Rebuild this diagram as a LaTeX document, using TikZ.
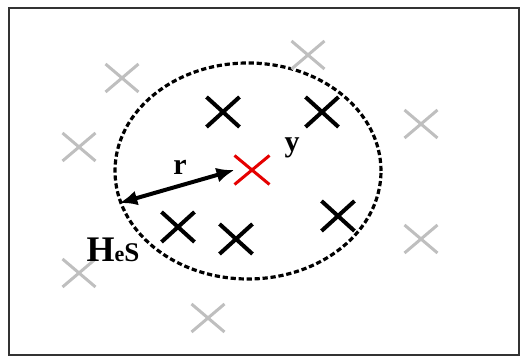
\documentclass[tikz,border=0pt]{standalone}
\usepackage{fontspec}
\setmainfont{Liberation Serif}
\usetikzlibrary{arrows.meta,shapes.geometric,shapes.misc}

\begin{document}
\begin{tikzpicture}[
  x=0.5pt,y=-0.5pt,
  far/.style={cross out,draw=black!25,line width=1.5pt,minimum width=15pt,minimum height=12.5pt,inner sep=0pt},
  near/.style={cross out,draw=black,line width=2pt,minimum width=14.5pt,minimum height=13pt,inner sep=0pt},
  query/.style={cross out,draw=red!90!black,line width=1.5pt,minimum width=16pt,minimum height=13pt,inner sep=0pt},
  lbl/.style={font=\fontsize{15}{15}\selectfont\bfseries,inner sep=0pt},
  arr/.style={{Latex[length=9pt,width=7.5pt]}-{Latex[length=9pt,width=7.5pt]},line width=2pt}
]
\useasboundingbox (0,0) rectangle (520,356);
\draw[black!80,line width=1pt] (9,8) rectangle (519,355);
\node[ellipse,draw,dash pattern=on 2.6pt off 1.4pt,line width=1.6pt,minimum width=133pt,minimum height=108pt,inner sep=0pt] (hood) at (248,171) {};
% points outside the neighbourhood
\node[far] (g1) at (122,78) {};
\node[far] (g2) at (308,55) {};
\node[far] (g3) at (79,147) {};
\node[far] (g4) at (421,124) {};
\node[far] (g5) at (421,239) {};
\node[far] (g6) at (79,273) {};
\node[far] (g7) at (208,318) {};
% points inside
\node[near] (n1) at (223,112) {};
\node[near] (n2) at (322,112) {};
\node[near] (n3) at (178,227) {};
\node[near] (n4) at (236,239) {};
\node[near] (n5) at (338,216) {};
\node[query] (y0) at (252,170) {};
\node[lbl] (ylab) at (292,148) {y};
\node[lbl] (rlab) at (180,167) {r};
\node[inner sep=0pt,anchor=base] (hes) at (113,262)
  {\bfseries\fontsize{18}{18}\selectfont H\fontsize{11}{11}\selectfont e\fontsize{13.5}{13.5}\selectfont S};
\draw[arr] (hood.194) -- (y0.west);
\end{tikzpicture}
\end{document}
